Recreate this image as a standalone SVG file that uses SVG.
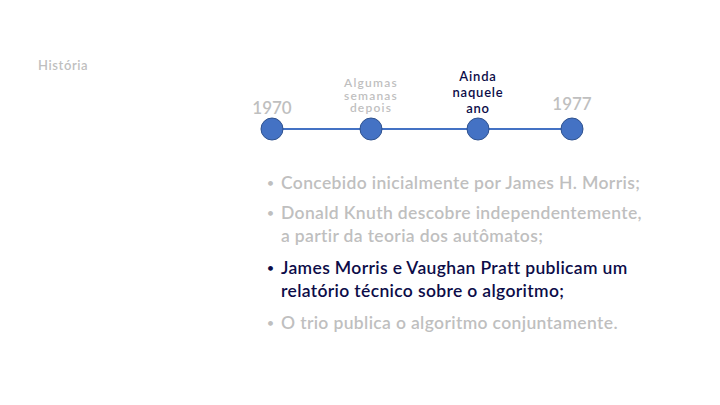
<svg xmlns="http://www.w3.org/2000/svg" width="720" height="405" viewBox="0 0 720 405">
<style>
text{font-family:"Lato","Open Sans",sans-serif;font-weight:600}
.g{fill:#bfbfbf}
.d{fill:#0c0c48}
.yr{font-size:17px;text-anchor:middle}
.lb{font-size:13px;text-anchor:middle;letter-spacing:0.8px}
.sm{font-size:12px;letter-spacing:1.2px}
.b{font-size:17.5px;letter-spacing:0.35px}
.dot{font-size:12px}
.n{fill:#4472c4;stroke:#2f528f;stroke-width:1}
</style>
<rect width="720" height="405" fill="#ffffff"/>
<text x="38" y="70" class="g" font-size="13" letter-spacing="0.6">História</text>
<g id="connectors">
<line x1="272" y1="129" x2="572" y2="129" stroke="#4472c4" stroke-width="2"/>
</g>
<g id="n1970">
<circle class="n" cx="272" cy="129" r="11"/>
<text x="272" y="114" class="g yr">1970</text>
</g>
<g id="nsemanas">
<circle class="n" cx="371" cy="129" r="11"/>
<text class="g lb sm"><tspan x="371" y="87">Algumas</tspan><tspan x="371" y="99.5">semanas</tspan><tspan x="371" y="112">depois</tspan></text>
</g>
<g id="nainda">
<circle class="n" cx="478" cy="129" r="11"/>
<text class="d lb"><tspan x="478" y="81">Ainda</tspan><tspan x="478" y="97">naquele</tspan><tspan x="478" y="113">ano</tspan></text>
</g>
<g id="n1977">
<circle class="n" cx="572" cy="129" r="11"/>
<text x="572" y="110" class="g yr">1977</text>
</g>
<g id="bullets">
<text x="267" y="187" class="g dot">•</text>
<text x="281" y="189" class="g b">Concebido inicialmente por James H. Morris;</text>
<text x="267" y="217" class="g dot">•</text>
<text class="g b"><tspan x="281" y="219">Donald Knuth descobre independentemente,</tspan><tspan x="281" y="242">a partir da teoria dos autômatos;</tspan></text>
<text x="267" y="272" class="d dot">•</text>
<text class="d b"><tspan x="281" y="274">James Morris e Vaughan Pratt publicam um</tspan><tspan x="281" y="297">relatório técnico sobre o algoritmo;</tspan></text>
<text x="267" y="327" class="g dot">•</text>
<text x="281" y="329" class="g b">O trio publica o algoritmo conjuntamente.</text>
</g>
</svg>
